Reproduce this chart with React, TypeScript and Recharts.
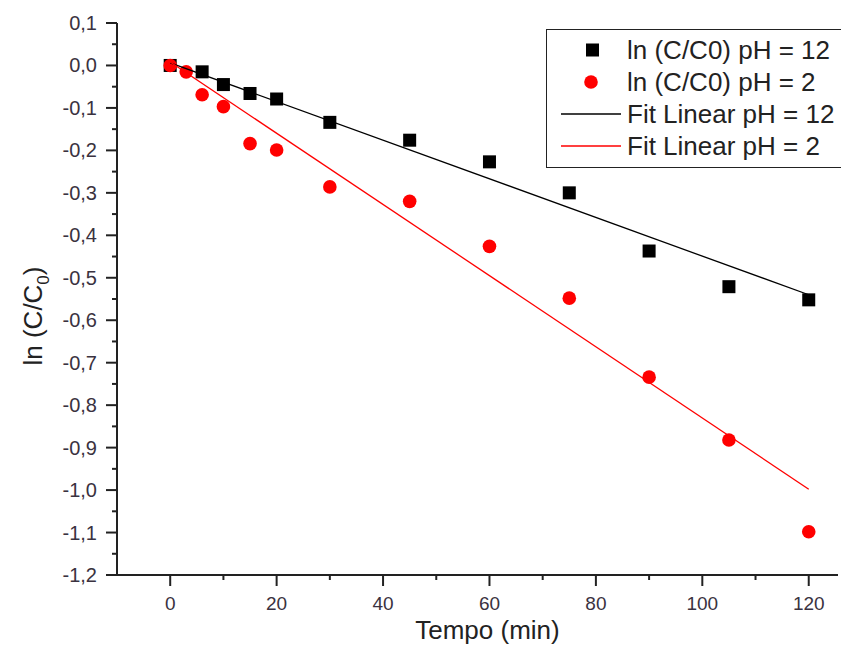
import { ScatterChart, Scatter, XAxis, YAxis, Legend } from "recharts";

// ln(C/C0) vs tempo, pH 12 (squares) and pH 2 (circles)
const time12 = [0, 6, 10, 15, 20, 30, 45, 60, 75, 90, 105, 120];
const lnC12 = [0, -0.015, -0.045, -0.066, -0.079, -0.134, -0.176, -0.227, -0.3, -0.437, -0.521, -0.552];

const time2 = [0, 3, 6, 10, 15, 20, 30, 45, 60, 75, 90, 105, 120];
const lnC2 = [0, -0.015, -0.069, -0.097, -0.184, -0.199, -0.286, -0.32, -0.426, -0.548, -0.734, -0.882, -1.098];

// linear fits, end points
const fitTime = [0, 120];
const fit12 = [0.006, -0.54];
const fit2 = [0.008, -0.998];

const xTicks = [0, 10, 20, 30, 40, 50, 60, 70, 80, 90, 100, 110, 120];
const xLabelEvery = 20;
const yTicks = [
  -1.2, -1.15, -1.1, -1.05, -1.0, -0.95, -0.9, -0.85, -0.8, -0.75, -0.7, -0.65, -0.6, -0.55,
  -0.5, -0.45, -0.4, -0.35, -0.3, -0.25, -0.2, -0.15, -0.1, -0.05, 0, 0.05, 0.1,
];

const names = ["ln (C/C0) pH = 12", "ln (C/C0) pH = 2", "Fit Linear pH = 12", "Fit Linear pH = 2"];

const toPoints = (xs: number[], ys: number[]) => xs.map((x, i) => ({ x, y: ys[i] }));

const FONT = 'Arial, "Liberation Sans", sans-serif';
const AXIS = "#222";
const TICK_TEXT = "#3a3240";

const XTick = (props: any) => {
  const { x, y, payload } = props;
  const major = payload.value % xLabelEvery === 0;
  return (
    <g>
      <line x1={x} x2={x} y1={y} y2={y + (major ? 11 : 5)} stroke={AXIS} strokeWidth={2} />
      {major && (
        <text x={x} y={y + 35} textAnchor="middle" fontSize={19} fill={TICK_TEXT} fontFamily={FONT}>
          {payload.value}
        </text>
      )}
    </g>
  );
};

const YTick = (props: any) => {
  const { x, y, payload } = props;
  const v = Math.round(payload.value * 100);
  const major = v % 10 === 0;
  const label = (v / 100).toFixed(1).replace(".", ",").replace("-0,0", "0,0");
  return (
    <g>
      <line x1={x - (major ? 11 : 5)} x2={x} y1={y} y2={y} stroke={AXIS} strokeWidth={2} />
      {major && (
        <text x={x - 20} y={y} dy="0.35em" textAnchor="end" fontSize={20} fill={TICK_TEXT} fontFamily={FONT}>
          {label}
        </text>
      )}
    </g>
  );
};

const XTitle = (props: any) => {
  const { viewBox } = props;
  return (
    <text
      x={viewBox.x + viewBox.width / 2 + 10}
      y={viewBox.y + 64}
      textAnchor="middle"
      fontSize={26}
      fill="#222"
      fontFamily={FONT}
    >
      Tempo (min)
    </text>
  );
};

const YTitle = (props: any) => {
  const { viewBox } = props;
  const cx = 33;
  const cy = viewBox.y + viewBox.height / 2 + 17;
  return (
    <text
      x={cx}
      y={cy}
      transform={`rotate(-90, ${cx}, ${cy})`}
      textAnchor="middle"
      dy="0.35em"
      fontSize={26}
      fill="#222"
      fontFamily={FONT}
    >
      ln (C/C
      <tspan fontSize={17} dy={7}>0</tspan>
      <tspan dy={-7}>)</tspan>
    </text>
  );
};

const Square = (props: any) => {
  const { cx, cy } = props;
  return <rect x={cx - 6.5} y={cy - 6.5} width={13} height={13} fill="#000" />;
};

const Dot = (props: any) => {
  const { cx, cy } = props;
  return <circle cx={cx} cy={cy} r={6.8} fill="#f00" />;
};

const NoShape = () => <g />;

const LegendBox = () => {
  const rowY = [20, 52, 84, 116];
  const icon = (i: number) => {
    if (i === 0) return <rect x={39} y={-6.5} width={13} height={13} fill="#000" />;
    if (i === 1) return <circle cx={44} cy={0} r={6.8} fill="#f00" />;
    return <line x1={14} x2={74} y1={0} y2={0} stroke={i === 2 ? "#000" : "#f00"} strokeWidth={1.3} />;
  };
  return (
    <div
      style={{
        width: 300,
        height: 139,
        border: "1.5px solid #222",
        boxSizing: "border-box",
        background: "#fff",
        position: "relative",
      }}
    >
      <svg width={300} height={139} style={{ position: "absolute", left: 0, top: 0 }}>
        {names.map((n, i) => (
          <g key={n} transform={`translate(0, ${rowY[i]})`}>
            {icon(i)}
            <text x={80} y={0} dy="0.35em" fontSize={26} fill="#222" fontFamily={FONT}>
              {n}
            </text>
          </g>
        ))}
      </svg>
    </div>
  );
};

export default function App() {
  return (
    <div style={{ position: "absolute", left: 0, top: 0, background: "#fff" }}>
      <ScatterChart width={841} height={660} margin={{ top: 23, right: 3, bottom: 0, left: 0 }}>
        <XAxis
          xAxisId={0}
          type="number"
          dataKey="x"
          domain={[-10, 125.5]}
          ticks={xTicks}
          interval={0}
          allowDataOverflow
          height={85}
          tickSize={0}
          tickMargin={0}
          tickLine={false}
          tick={<XTick />}
          axisLine={{ stroke: AXIS, strokeWidth: 2 }}
          label={{ content: <XTitle /> }}
        />
        <XAxis
          xAxisId="top"
          orientation="top"
          type="number"
          dataKey="x"
          domain={[-10, 125.5]}
          height={0}
          tick={false}
          tickLine={false}
          axisLine={{ stroke: AXIS, strokeWidth: 2 }}
        />
        <YAxis
          type="number"
          dataKey="y"
          domain={[-1.2, 0.1]}
          ticks={yTicks}
          interval={0}
          allowDataOverflow
          width={117}
          tickSize={0}
          tickMargin={0}
          tickLine={false}
          tick={<YTick />}
          axisLine={{ stroke: AXIS, strokeWidth: 2 }}
          label={{ content: <YTitle /> }}
        />
        <Legend
          layout="vertical"
          align="center"
          verticalAlign="middle"
          content={() => <LegendBox />}
          wrapperStyle={{ position: "absolute", left: 546, top: 29, width: 300, height: 139 }}
        />
        <Scatter
          name={names[0]}
          data={toPoints(time12, lnC12)}
          shape={<Square />}
          isAnimationActive={false}
        />
        <Scatter
          name={names[1]}
          data={toPoints(time2, lnC2)}
          shape={<Dot />}
          isAnimationActive={false}
        />
        <Scatter
          name={names[2]}
          data={toPoints(fitTime, fit12)}
          line={{ stroke: "#000", strokeWidth: 1.3 }}
          shape={<NoShape />}
          isAnimationActive={false}
        />
        <Scatter
          name={names[3]}
          data={toPoints(fitTime, fit2)}
          line={{ stroke: "#f00", strokeWidth: 1.3 }}
          shape={<NoShape />}
          isAnimationActive={false}
        />
      </ScatterChart>
    </div>
  );
}
